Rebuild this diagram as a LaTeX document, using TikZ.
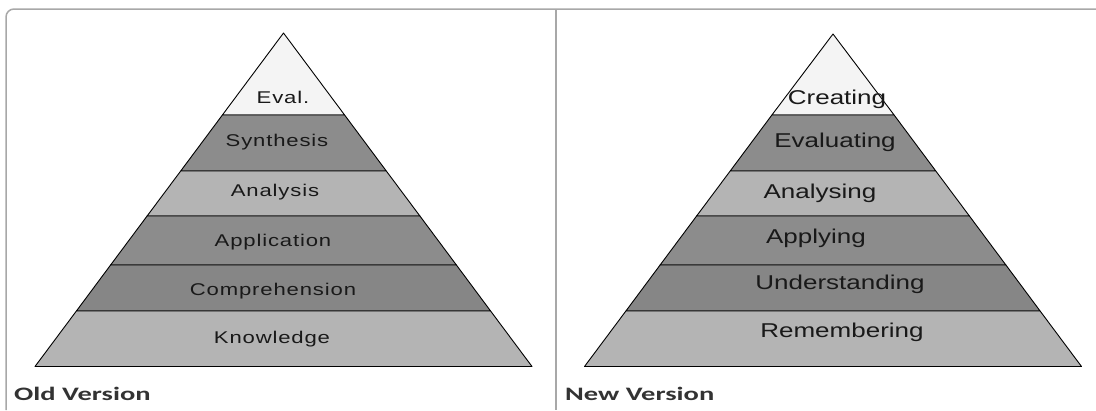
\documentclass[tikz,border=0pt]{standalone}
\usepackage{fontspec}
\newfontfamily\lfont[FakeStretch=1.3,LetterSpace=5]{Liberation Sans}
\newfontfamily\rfont[FakeStretch=1.3]{Liberation Sans}
\newfontfamily\capfont[FakeStretch=1.5]{Carlito}
\definecolor{toplvl}{HTML}{F4F4F4}
\definecolor{darklvl}{HTML}{8C8C8C}
\definecolor{lightlvl}{HTML}{B4B4B4}
\definecolor{framegray}{HTML}{A8A8A8}
\definecolor{captxt}{HTML}{333333}
\tikzset{
  band/.style={draw=black, line width=0.9pt, line join=round},
  ltxt/.style={font=\lfont\fontsize{17}{20}\selectfont, text=black!90, inner sep=0pt},
  rtxt/.style={font=\rfont\fontsize{20}{24}\selectfont, text=black!90, inner sep=0pt},
  captxtstyle/.style={font=\capfont\bfseries\fontsize{19}{22}\selectfont, text=captxt, inner sep=0pt, anchor=west},
  framestyle/.style={draw=framegray, line width=1.5pt}
}
\begin{document}
\begin{tikzpicture}[x=1pt,y=-1pt]
\useasboundingbox (0,0) rectangle (1096,410);
% frame
\draw[framestyle] (6,410) -- (6,17) arc[start angle=180,end angle=270,radius=8] -- (1096,9);
\draw[framestyle] (556,9) -- (556,410);
% pyramids
\foreach \cx/\ay in {283.5/33, 833/34}{
  \begin{scope}[xshift=\cx pt]
    \filldraw[band, fill=toplvl]  (0,\ay) -- (61.1,115) -- (-61.1,115) -- cycle;
    \filldraw[band, fill=darklvl] (-61.1,115) -- (61.1,115) -- (102.8,171) -- (-102.8,171) -- cycle;
    \filldraw[band, fill=lightlvl] (-102.8,171) -- (102.8,171) -- (136.4,216) -- (-136.4,216) -- cycle;
    \filldraw[band, fill=darklvl] (-136.4,216) -- (136.4,216) -- (172.9,265) -- (-172.9,265) -- cycle;
    \filldraw[band, fill=darklvl!96!black] (-172.9,265) -- (172.9,265) -- (207.1,311) -- (-207.1,311) -- cycle;
    \filldraw[band, fill=lightlvl] (-207.1,311) -- (207.1,311) -- (248.5,366.5) -- (-248.5,366.5) -- cycle;
  \end{scope}
}
\draw[black, line width=1.4pt] (35,366.5) -- (532,366.5);
\draw[black, line width=1.4pt] (584.5,366.5) -- (1081.5,366.5);
% old version labels
\node[ltxt] (eval) at (283,97) {Eval.};
\node[ltxt] (synth) at (277,142) {Synthesis};
\node[ltxt] (anal) at (275,192) {Analysis};
\node[ltxt] (appl) at (273,242) {Application};
\node[ltxt] (comp) at (273,291) {Comprehension};
\node[ltxt] (know) at (272,339) {Knowledge};
% new version labels
\node[rtxt] (creat) at (837,99) {Creating};
\node[rtxt] (evalu) at (835,142) {Evaluating};
\node[rtxt] (analy) at (820,193) {Analysing};
\node[rtxt] (apply) at (816,238) {Applying};
\node[rtxt] (under) at (840,284) {Understanding};
\node[rtxt] (remem) at (842,332) {Remembering};
% captions
\node[captxtstyle] (oldv) at (14,394) {Old Version};
\node[captxtstyle] (newv) at (565,394) {New Version};
\end{tikzpicture}
\end{document}
